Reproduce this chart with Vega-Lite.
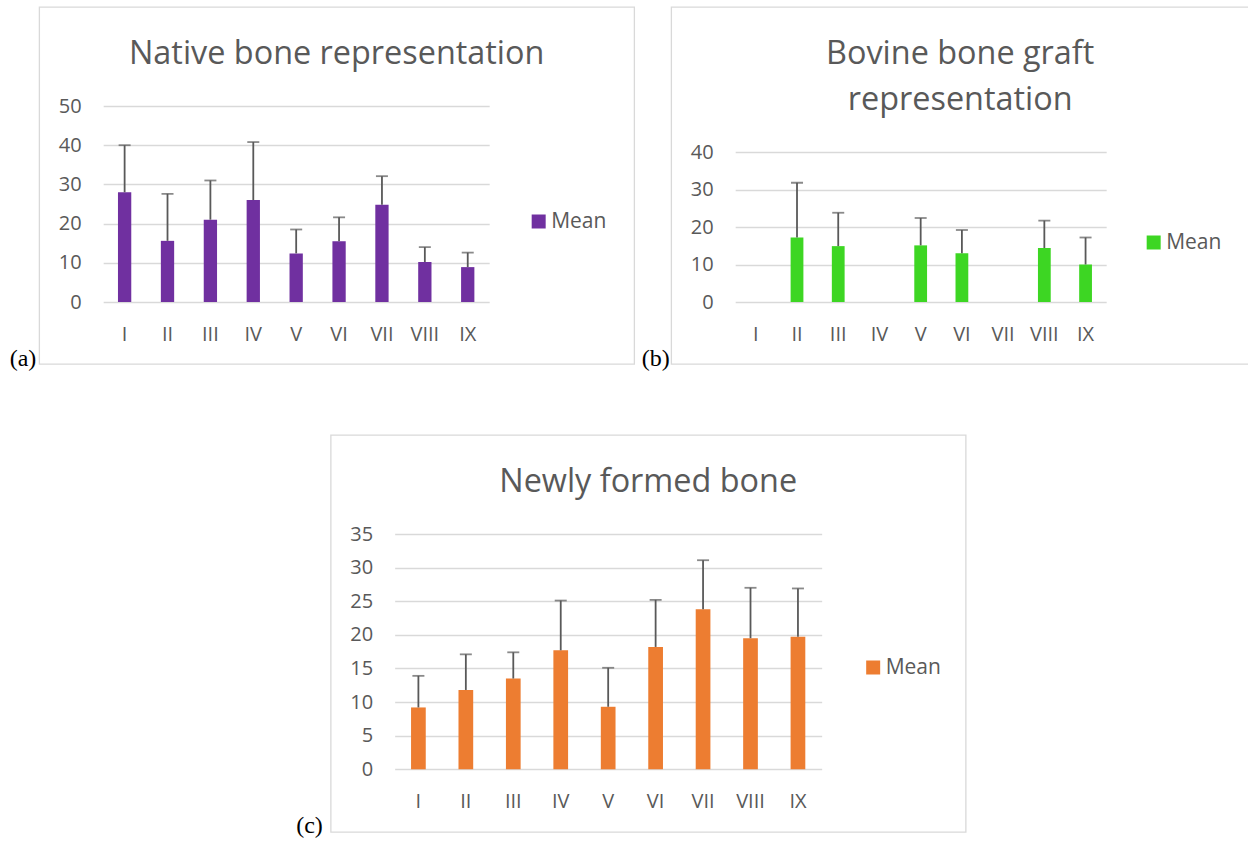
{
  "$schema": "https://vega.github.io/schema/vega-lite/v6.json",
  "background": "white",
  "padding": {"left": 8, "top": 6, "right": 0, "bottom": 0},
  "config": {
    "view": {"stroke": "#d9d9d9", "strokeWidth": 1.3},
    "axis": {"labelFont": "Open Sans", "labelFontSize": 20, "labelColor": "#595959", "domain": false, "ticks": false, "gridColor": "#d9d9d9", "gridWidth": 1.3},
    "axisX": {"grid": false, "labelAngle": 0, "labelPadding": 22, "labelBaseline": "top"},
    "axisY": {"grid": true, "labelPadding": 22},
    "title": {"font": "Open Sans", "fontSize": 32.4, "fontWeight": "normal", "color": "#595959", "anchor": "middle", "frame": "group", "baseline": "alphabetic", "offset": -63},
    "legend": {"labelFont": "Open Sans", "labelFontSize": 21, "labelColor": "#595959", "symbolType": "square", "symbolSize": 196, "labelOffset": 2, "padding": 0, "symbolStrokeWidth": 0},
    "bar": {"strokeWidth": 0},
    "rule": {"color": "#595959", "strokeWidth": 1.8},
    "tick": {"color": "#595959", "thickness": 1.8, "size": 12}
  },
  "datasets": {
    "native": [
      {"g": "I", "mean": 28.0, "upper": 40.0, "s": "Mean"},
      {"g": "II", "mean": 15.6, "upper": 27.6, "s": "Mean"},
      {"g": "III", "mean": 21.0, "upper": 31.0, "s": "Mean"},
      {"g": "IV", "mean": 26.0, "upper": 40.8, "s": "Mean"},
      {"g": "V", "mean": 12.4, "upper": 18.5, "s": "Mean"},
      {"g": "VI", "mean": 15.5, "upper": 21.6, "s": "Mean"},
      {"g": "VII", "mean": 24.8, "upper": 32.1, "s": "Mean"},
      {"g": "VIII", "mean": 10.2, "upper": 14.0, "s": "Mean"},
      {"g": "IX", "mean": 8.9, "upper": 12.6, "s": "Mean"}
    ],
    "bovine": [
      {"g": "I", "mean": 0, "upper": null, "s": "Mean"},
      {"g": "II", "mean": 17.2, "upper": 31.8, "s": "Mean"},
      {"g": "III", "mean": 14.9, "upper": 23.8, "s": "Mean"},
      {"g": "IV", "mean": 0, "upper": null, "s": "Mean"},
      {"g": "V", "mean": 15.1, "upper": 22.4, "s": "Mean"},
      {"g": "VI", "mean": 13.0, "upper": 19.2, "s": "Mean"},
      {"g": "VII", "mean": 0, "upper": null, "s": "Mean"},
      {"g": "VIII", "mean": 14.4, "upper": 21.7, "s": "Mean"},
      {"g": "IX", "mean": 10.0, "upper": 17.2, "s": "Mean"}
    ],
    "newly": [
      {"g": "I", "mean": 9.2, "upper": 13.9, "s": "Mean"},
      {"g": "II", "mean": 11.8, "upper": 17.1, "s": "Mean"},
      {"g": "III", "mean": 13.5, "upper": 17.4, "s": "Mean"},
      {"g": "IV", "mean": 17.7, "upper": 25.1, "s": "Mean"},
      {"g": "V", "mean": 9.3, "upper": 15.1, "s": "Mean"},
      {"g": "VI", "mean": 18.2, "upper": 25.2, "s": "Mean"},
      {"g": "VII", "mean": 23.8, "upper": 31.1, "s": "Mean"},
      {"g": "VIII", "mean": 19.5, "upper": 27.0, "s": "Mean"},
      {"g": "IX", "mean": 19.7, "upper": 26.9, "s": "Mean"}
    ]
  },
  "resolve": {"scale": {"color": "independent"}, "legend": {"color": "independent"}},
  "center": true,
  "spacing": 63,
  "vconcat": [
    {
      "spacing": 5,
      "resolve": {"scale": {"color": "independent"}, "legend": {"color": "independent"}},
      "hconcat": [
        {
          "width": 595, "height": 357,
          "title": {"text": "Native bone representation"},
          "data": {"name": "native"},
          "encoding": {
            "x": {"field": "g", "type": "nominal", "sort": null, "title": null,
                  "scale": {"range": [64, 450], "paddingInner": 0.69, "paddingOuter": 0.345},
                  "axis": {"offset": -62}}
          },
          "layer": [
            {"mark": {"type": "bar"},
             "encoding": {
               "y": {"field": "mean", "type": "quantitative", "title": "(a)",
                     "scale": {"domain": [0, 50], "range": [295, 99], "nice": false},
                     "axis": {"values": [0, 10, 20, 30, 40, 50], "offset": -64, "titleAngle": 0, "titleFont": "Liberation Serif", "titleFontSize": 24, "titleFontWeight": "normal", "titleColor": "#000000", "titleX": -94, "titleY": 358, "titleAlign": "left", "titleBaseline": "alphabetic"}},
               "color": {"field": "s", "type": "nominal", "scale": {"range": ["#7030A0"]},
                         "legend": {"orient": "none", "legendX": 489, "legendY": 204, "title": null}}}},
            {"mark": {"type": "rule"}, "encoding": {"y": {"field": "mean", "type": "quantitative", "title": "(a)"}, "y2": {"field": "upper"}}},
            {"mark": {"type": "tick"}, "encoding": {"y": {"field": "upper", "type": "quantitative", "title": "(a)"}}}
          ]
        },
        {
          "width": 586, "height": 357,
          "title": {"text": ["Bovine bone graft", "representation"], "lineHeight": 46, "offset": -109, "dx": -4},
          "data": {"name": "bovine"},
          "encoding": {
            "x": {"field": "g", "type": "nominal", "sort": null, "title": null,
                  "scale": {"range": [64, 435], "paddingInner": 0.69, "paddingOuter": 0.345},
                  "axis": {"offset": -62}}
          },
          "layer": [
            {"mark": {"type": "bar"},
             "encoding": {
               "y": {"field": "mean", "type": "quantitative", "title": "(b)",
                     "scale": {"domain": [0, 40], "range": [295, 145], "nice": false},
                     "axis": {"values": [0, 10, 20, 30, 40], "offset": -64, "titleAngle": 0, "titleFont": "Liberation Serif", "titleFontSize": 24, "titleFontWeight": "normal", "titleColor": "#000000", "titleX": -94, "titleY": 358, "titleAlign": "left", "titleBaseline": "alphabetic"}},
               "color": {"field": "s", "type": "nominal", "scale": {"range": ["#3DD623"]},
                         "legend": {"orient": "none", "legendX": 472, "legendY": 225, "title": null}}}},
            {"mark": {"type": "rule"}, "encoding": {"y": {"field": "mean", "type": "quantitative", "title": "(b)"}, "y2": {"field": "upper"}}},
            {"mark": {"type": "tick"}, "encoding": {"y": {"field": "upper", "type": "quantitative", "title": "(b)"}}}
          ]
        }
      ]
    },
    {
      "width": 635, "height": 397,
      "title": {"text": "Newly formed bone"},
      "data": {"name": "newly"},
      "encoding": {
        "x": {"field": "g", "type": "nominal", "sort": null, "title": null,
              "scale": {"range": [64, 491], "paddingInner": 0.69, "paddingOuter": 0.345},
              "axis": {"offset": -62.7}}
      },
      "layer": [
        {"mark": {"type": "bar"},
         "encoding": {
           "y": {"field": "mean", "type": "quantitative", "title": "(c)",
                 "scale": {"domain": [0, 35], "range": [334.3, 99], "nice": false},
                 "axis": {"values": [0, 5, 10, 15, 20, 25, 30, 35], "offset": -64, "titleAngle": 0, "titleFont": "Liberation Serif", "titleFontSize": 24, "titleFontWeight": "normal", "titleColor": "#000000", "titleX": -99, "titleY": 397, "titleAlign": "left", "titleBaseline": "alphabetic"}},
           "color": {"field": "s", "type": "nominal", "scale": {"range": ["#ED7D31"]},
                     "legend": {"orient": "none", "legendX": 532, "legendY": 222, "title": null}}}},
        {"mark": {"type": "rule"}, "encoding": {"y": {"field": "mean", "type": "quantitative", "title": "(c)"}, "y2": {"field": "upper"}}},
        {"mark": {"type": "tick"}, "encoding": {"y": {"field": "upper", "type": "quantitative", "title": "(c)"}}}
      ]
    }
  ]
}
